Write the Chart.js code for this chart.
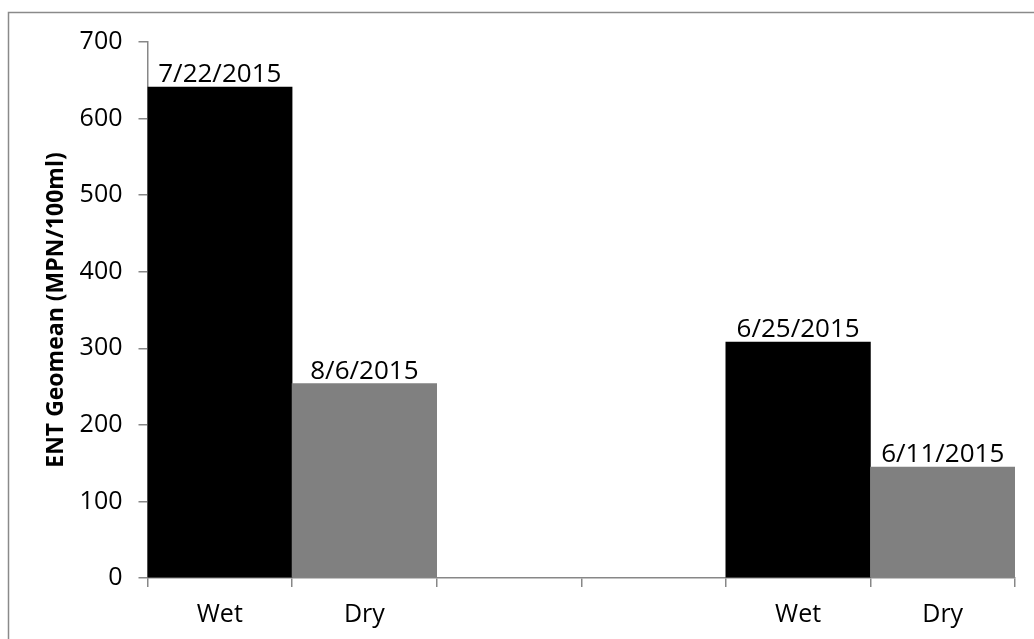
<!DOCTYPE html>
<html>
<head>
<meta charset="utf-8">
<script src="https://cdn.jsdelivr.net/npm/chart.js@4/dist/chart.umd.min.js"></script>
<style>
  html, body { margin: 0; padding: 0; background: #ffffff; }
  canvas { display: block; }
</style>
</head>
<body>
<canvas id="chart" width="1034" height="639"></canvas>
<script>
// Sampling conditions along the x axis (two blank slots separate the sites)
const categories = ['Wet', 'Dry', '', '', 'Wet', 'Dry'];
// ENT geometric means, MPN/100ml
const geomeanValues = [641, 254, null, null, 308, 145];
// Sampling date shown above each bar
const sampleDates = ['7/22/2015', '8/6/2015', '', '', '6/25/2015', '6/11/2015'];
// Y axis tick values
const yTicks = [0, 100, 200, 300, 400, 500, 600, 700];

const conditionColors = { Wet: '#000000', Dry: '#808080' };
const axisGray = '#878787';
const fontFamily = '"Open Sans", "Liberation Sans", sans-serif';

const frameBorder = {
  id: 'frameBorder',
  beforeDraw(chart) {
    const ctx = chart.ctx;
    ctx.save();
    ctx.strokeStyle = '#8a8a8a';
    ctx.lineWidth = 1.5;
    ctx.strokeRect(8.5, 12.5, 1100, 800);
    ctx.restore();
  }
};

const dateLabels = {
  id: 'dateLabels',
  afterDatasetsDraw(chart) {
    const ctx = chart.ctx;
    const meta = chart.getDatasetMeta(0);
    ctx.save();
    ctx.fillStyle = '#000000';
    ctx.font = '26px ' + fontFamily;
    ctx.textAlign = 'center';
    ctx.textBaseline = 'alphabetic';
    meta.data.forEach((bar, i) => {
      if (geomeanValues[i] == null) return;
      ctx.fillText(sampleDates[i], bar.x, bar.y - 5);
    });
    ctx.restore();
  }
};

new Chart(document.getElementById('chart'), {
  type: 'bar',
  data: {
    labels: categories,
    datasets: [{
      data: geomeanValues,
      backgroundColor: categories.map(c => conditionColors[c] || '#000000'),
      borderWidth: 0,
      categoryPercentage: 1.0,
      barPercentage: 1.0
    }]
  },
  options: {
    responsive: false,
    animation: false,
    layout: { padding: { left: 0, right: 19, top: 42, bottom: 0 } },
    plugins: {
      legend: { display: false },
      tooltip: { enabled: false }
    },
    scales: {
      x: {
        offset: true,
        grid: {
          offset: true,
          drawOnChartArea: false,
          drawTicks: true,
          tickLength: 9,
          color: axisGray,
          lineWidth: 1.5
        },
        border: { display: true, color: axisGray, width: 1.5 },
        ticks: {
          color: '#000000',
          font: { family: fontFamily, size: 25 },
          padding: 13,
          maxRotation: 0,
          autoSkip: false
        },
        afterFit(scale) { scale.height = 61; }
      },
      y: {
        min: 0,
        max: 700,
        afterBuildTicks(scale) { scale.ticks = yTicks.map(v => ({ value: v })); },
        grid: {
          drawOnChartArea: false,
          drawTicks: true,
          tickLength: 9,
          color: axisGray,
          lineWidth: 1.5
        },
        border: { display: true, color: axisGray, width: 1.5 },
        ticks: {
          color: '#000000',
          font: { family: fontFamily, size: 25 },
          padding: 16
        },
        title: {
          display: true,
          text: 'ENT Geomean (MPN/100ml)',
          color: '#000000',
          font: { family: fontFamily, size: 23, weight: 'bold' },
          padding: { top: 43, bottom: 0 }
        },
        afterFit(scale) { scale.width = 147.5; }
      }
    }
  },
  plugins: [frameBorder, dateLabels]
});
</script>
</body>
</html>
